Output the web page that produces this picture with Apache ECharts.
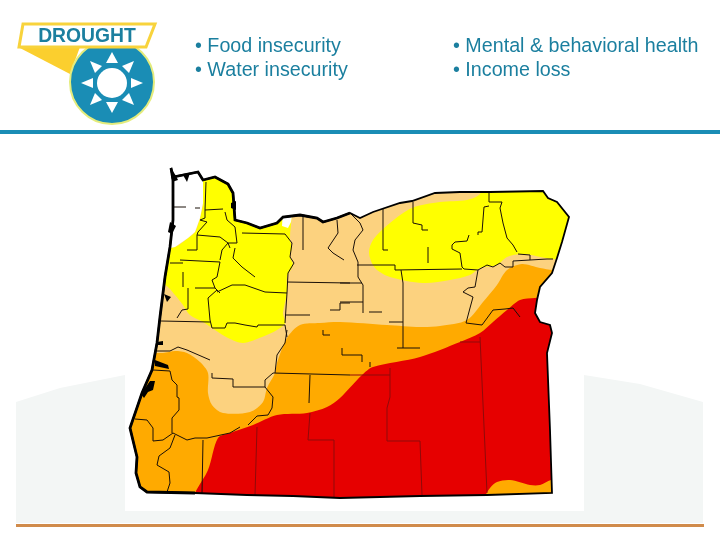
<!DOCTYPE html>
<html>
<head>
<meta charset="utf-8">
<style>html,body{margin:0;padding:0;background:#fff}#chart-1{width:720px;height:540px}</style>
<script src="https://cdn.jsdelivr.net/npm/echarts@6/dist/echarts.min.js"></script>
</head>
<body>
<div id="chart-1"></div>
<script>
/************************        Drought monitor map        ************************************************/
var stateOutline = [[171,168],[173,177],[183,175],[198,172],[203,180],[215,177],[228,184],[233,193],[235,220],[247,223],[260,228],[277,223],[283,217],[300,215],[317,218],[323,222],[337,218],[350,213],[360,218],[373,212],[400,203],[412,201],[435,193],[460,192],[490,192],[543,191],[548,198],[557,202],[569,217],[562,242],[557,258],[552,273],[540,287],[537,300],[535,313],[540,322],[550,325],[552,333],[547,353],[550,430],[552,493],[487,495],[420,496],[340,498],[293,496],[247,495],[195,493],[147,492],[140,487],[136,473],[137,457],[130,428],[142,393],[152,370],[157,343],[160,317],[165,277],[170,247],[173,220],[173,180]];
var coastLine = [[195,493],[147,492],[140,487],[136,473],[137,457],[130,428],[142,393],[152,370],[157,343],[160,317],[165,277],[170,247],[173,220],[173,180],[171,168],[173,177],[183,175],[198,172],[203,180],[215,177],[228,184],[233,193],[235,220],[247,223],[260,228],[277,223],[283,217],[300,215],[317,218],[323,222],[337,218],[350,213]];

var tanZone = stateOutline;
var yellowWest = [[203,170],[290,170],[290,240],[292,247],[290,257],[293,265],[287,277],[287,293],[283,313],[285,323],[277,330],[262,337],[243,343],[228,338],[215,330],[203,322],[190,315],[183,305],[175,295],[165,285],[150,285],[150,250],[175,247],[188,238],[195,232],[200,218],[203,203]];
var yellowEast = [[480,185],[480,194],[467,200],[440,202],[412,208],[390,223],[373,240],[369,253],[375,268],[390,277],[423,283],[450,280],[470,275],[480,268],[497,265],[507,257],[523,254],[553,259],[600,259],[600,180],[480,180]];
var orangeZone = [[600,270],[553,270],[540,268],[522,264],[507,270],[497,285],[483,302],[467,320],[440,326],[420,327],[387,325],[340,322],[320,323],[300,325],[287,338],[277,363],[275,373],[267,388],[263,402],[250,412],[223,413],[212,405],[208,393],[208,373],[200,362],[187,353],[175,351],[163,353],[120,356],[120,510],[600,510]];
var redZone = [[600,290],[535,298],[520,300],[507,310],[493,322],[480,333],[460,342],[420,357],[373,367],[362,375],[340,398],[327,407],[307,413],[277,415],[253,425],[230,433],[218,438],[208,470],[195,493],[190,510],[600,510]];
var orangeCorner = [[485,510],[485,497],[490,488],[497,482],[510,480],[530,485],[540,485],[551,480],[560,480],[560,510]];
var whiteNorth = [[203,170],[203,203],[200,218],[195,232],[188,238],[175,247],[160,250],[160,170]];
var whiteRiver = [[283,210],[293,210],[291,222],[288,228],[282,226]];

var zones = [
    {points: tanZone, color: '#fcd27f', smooth: 0},
    {points: yellowWest, color: '#ffff00', smooth: 0.3},
    {points: yellowEast, color: '#ffff00', smooth: 0.3},
    {points: orangeZone, color: '#ffaa00', smooth: 0.3},
    {points: redZone, color: '#e60000', smooth: 0.3},
    {points: orangeCorner, color: '#ffaa00', smooth: 0.3},
    {points: whiteNorth, color: '#ffffff', smooth: 0},
    {points: whiteRiver, color: '#ffffff', smooth: 0}
];

var countyLines = [
    [[173,207],[186,207]], [[195,208],[200,208]],
    [[206,182],[205,210],[223,209]],
    [[205,210],[205,218],[200,220],[207,222],[198,232],[197,235],[220,237],[228,243],[230,248]],
    [[197,235],[197,250],[187,250]],
    [[225,212],[227,220],[235,227],[237,243],[228,243],[222,250],[220,260]],
    [[235,248],[233,258],[242,267],[255,277]],
    [[180,260],[220,262],[217,277],[212,280],[215,288],[220,293]],
    [[170,263],[183,263]], [[183,272],[183,287]], [[195,288],[215,288]],
    [[188,288],[188,309],[182,310],[177,318]],
    [[217,290],[208,298],[210,320],[212,328],[225,328],[227,323],[235,323],[245,325],[257,327],[258,325],[285,325],[287,337]],
    [[217,292],[232,285],[245,285],[265,292],[287,293]],
    [[161,321],[210,322]],
    [[242,233],[285,234],[292,243],[290,257],[294,263],[288,273],[287,293],[285,323]],
    [[287,282],[350,283]], [[285,315],[310,315]],
    [[330,310],[340,310],[340,303],[350,303]],
    [[323,330],[323,335],[330,335]],
    [[303,217],[303,250]],
    [[337,220],[338,233],[328,248],[333,253],[344,260]],
    [[350,213],[360,223],[363,230],[355,240],[353,250],[358,262],[358,277],[363,285],[363,313]],
    [[357,265],[395,265],[395,270],[462,269]],
    [[340,283],[362,283]], [[340,302],[363,302]],
    [[369,312],[382,312]], [[389,322],[403,322]],
    [[401,270],[403,283],[403,348]], [[397,348],[420,348]],
    [[383,208],[383,250],[388,250]],
    [[413,202],[413,223],[422,225],[422,230],[428,230]],
    [[428,247],[428,263]],
    [[489,192],[489,202],[502,202],[500,208],[503,223],[507,238],[513,245],[517,252]],
    [[489,206],[484,207],[482,232],[478,232],[478,235]],
    [[469,235],[467,241],[455,242],[452,245],[452,249],[460,253],[462,267],[464,269]],
    [[464,269],[478,270],[475,287],[468,288],[463,292],[473,297],[470,308],[466,323],[482,325]],
    [[482,325],[493,310],[505,309],[513,308],[520,317]],
    [[478,270],[487,265],[493,267],[500,263],[505,267],[513,267],[513,261],[530,260],[530,255],[518,254]],
    [[530,260],[547,259],[553,259]],
    [[342,348],[342,355],[362,355],[362,362]], [[370,362],[370,367]],
    [[157,351],[170,351],[178,347],[187,350],[210,360]],
    [[212,373],[212,378],[233,379],[233,387],[265,387],[265,380],[273,373],[350,375]],
    [[287,330],[285,343],[277,355],[275,373]],
    [[265,387],[273,397],[272,408],[268,415],[257,416],[248,425]],
    [[240,427],[230,433],[207,438],[202,438],[195,438],[187,440],[177,435],[173,433]],
    [[173,433],[163,440],[153,441],[153,428],[147,420],[135,419]],
    [[172,433],[172,418],[179,410],[179,398],[177,397],[177,385],[172,380],[170,371],[153,370]],
    [[175,435],[170,448],[159,456],[157,465],[169,472],[170,483],[167,492]],
    [[203,440],[202,493]],
    [[310,375],[309,403]]
];
var redCountyLines = [
    [[257,427],[255,495]],
    [[310,413],[308,440],[334,440],[334,497]],
    [[350,375],[390,375]],
    [[390,368],[390,397],[387,408],[387,441],[420,441],[422,495]],
    [[460,342],[480,342]],
    [[480,337],[487,493]]
];
var waterBlobs = [
    [[171,168],[176,176],[178,180],[172,182]],
    [[183,175],[190,173],[187,182]],
    [[231,203],[236,201],[236,210],[231,208]],
    [[170,222],[176,226],[172,234],[168,232]],
    [[164,294],[171,297],[167,302]],
    [[157,342],[163,341],[163,345],[157,345]],
    [[155,360],[168,365],[169,369],[155,366]],
    [[150,381],[155,381],[153,390],[148,392],[144,398],[141,394]]
];

var outlines = [
    {points: stateOutline.concat([stateOutline[0]]), width: 1.8},
    {points: coastLine, width: 2.8}
];

function polyPixels(api, pts) {
    return pts.map(function (p) { return api.coord(p); });
}

var dom = document.getElementById("chart-1");
var myChart = echarts.init(dom);
var tealText = '#1b7f9f';
var teal = '#1a8db5';
var bulletFont = '19.7px "Liberation Sans"';
var option = {
    animation: false,
    backgroundColor: '#ffffff',
    grid: {left: 0, right: 0, top: 0, bottom: 0},
    xAxis: {type: 'value', min: 0, max: 720, show: false},
    yAxis: {type: 'value', min: 0, max: 540, inverse: true, show: false},
    graphic: [
        // page furniture behind the map
        {type: 'polygon', z: -10, shape: {points: [[16,402],[60,388],[125,375],[125,523],[16,523]]}, style: {fill: '#f3f6f5'}},
        {type: 'polygon', z: -10, shape: {points: [[584,375],[640,384],[703,402],[703,523],[584,523]]}, style: {fill: '#f3f6f5'}},
        {type: 'rect', z: -10, shape: {x: 125, y: 511, width: 459, height: 12}, style: {fill: '#f3f6f5'}},
        {type: 'rect', z: -9, shape: {x: 16, y: 524, width: 688, height: 3}, style: {fill: '#d08b4b'}},
        {type: 'rect', z: -9, shape: {x: 0, y: 130, width: 720, height: 4}, style: {fill: teal}},
        // logo
        {type: 'polygon', z: -8, shape: {points: [[18,47],[80,47],[70,74]]}, style: {fill: '#fbcf2e'}},
        {type: 'circle', z: -7, shape: {cx: 112, cy: 82, r: 42}, style: {fill: teal, stroke: '#e4ec7c', lineWidth: 2}},
        {type: 'polygon', z: -6, shape: {points: [[23,24],[155,24],[146,47],[19,47]]}, style: {fill: '#ffffff', stroke: '#f8d33c', lineWidth: 3}},
        {type: 'circle', z: -5, shape: {cx: 112, cy: 83, r: 15}, style: {fill: '#ffffff'}},
        {type: 'polygon', z: -5, shape: {points: [[112,52],[106,63],[118,63]]}, style: {fill: '#ffffff'}},
        {type: 'polygon', z: -5, shape: {points: [[112,113],[106,102],[118,102]]}, style: {fill: '#ffffff'}},
        {type: 'polygon', z: -5, shape: {points: [[81,83],[93,78],[93,88]]}, style: {fill: '#ffffff'}},
        {type: 'polygon', z: -5, shape: {points: [[143,83],[131,78],[131,88]]}, style: {fill: '#ffffff'}},
        {type: 'polygon', z: -5, shape: {points: [[90,61],[95,73],[102,66]]}, style: {fill: '#ffffff'}},
        {type: 'polygon', z: -5, shape: {points: [[134,61],[129,73],[122,66]]}, style: {fill: '#ffffff'}},
        {type: 'polygon', z: -5, shape: {points: [[90,105],[95,93],[102,100]]}, style: {fill: '#ffffff'}},
        {type: 'polygon', z: -5, shape: {points: [[134,105],[129,93],[122,100]]}, style: {fill: '#ffffff'}},
        {type: 'text', z: -4, x: 87, y: 36, scaleX: 0.92, style: {x: 0, y: 0, text: 'DROUGHT', fill: tealText, align: 'center', verticalAlign: 'middle', font: 'bold 21px "Liberation Sans"'}},
        // bullets
        {type: 'text', style: {x: 195, y: 47, text: '\u2022 Food insecurity', fill: tealText, verticalAlign: 'middle', font: bulletFont}},
        {type: 'text', style: {x: 195, y: 71, text: '\u2022 Water insecurity', fill: tealText, verticalAlign: 'middle', font: bulletFont}},
        {type: 'text', style: {x: 453, y: 47, text: '\u2022 Mental & behavioral health', fill: tealText, verticalAlign: 'middle', font: bulletFont}},
        {type: 'text', style: {x: 453, y: 71, text: '\u2022 Income loss', fill: tealText, verticalAlign: 'middle', font: bulletFont}}
    ],
    series: [
        {
            // drought categories, clipped to the state
            type: 'custom',
            coordinateSystem: 'cartesian2d',
            clip: false,
            z: 2,
            data: zones.map(function (d, i) { return [i]; }),
            renderItem: function (params, api) {
                var zone = zones[api.value(0)];
                return {
                    type: 'polygon',
                    shape: {points: polyPixels(api, zone.points), smooth: zone.smooth},
                    clipPath: {type: 'polygon', shape: {points: polyPixels(api, stateOutline)}},
                    style: {fill: zone.color}
                };
            }
        },
        {
            type: 'custom',
            coordinateSystem: 'cartesian2d',
            z: 3,
            data: countyLines.map(function (d, i) { return [i]; }),
            renderItem: function (params, api) {
                return {
                    type: 'polyline',
                    shape: {points: polyPixels(api, countyLines[api.value(0)])},
                    style: {fill: null, stroke: '#1a1008', lineWidth: 1}
                };
            }
        },
        {
            type: 'custom',
            coordinateSystem: 'cartesian2d',
            z: 3,
            data: redCountyLines.map(function (d, i) { return [i]; }),
            renderItem: function (params, api) {
                return {
                    type: 'polyline',
                    shape: {points: polyPixels(api, redCountyLines[api.value(0)])},
                    style: {fill: null, stroke: '#8f0a0a', lineWidth: 1}
                };
            }
        },
        {
            type: 'custom',
            coordinateSystem: 'cartesian2d',
            z: 4,
            data: outlines.map(function (d, i) { return [i]; }),
            renderItem: function (params, api) {
                var line = outlines[api.value(0)];
                return {
                    type: 'polyline',
                    shape: {points: polyPixels(api, line.points)},
                    style: {fill: null, stroke: '#000000', lineWidth: line.width}
                };
            }
        },
        {
            type: 'custom',
            coordinateSystem: 'cartesian2d',
            z: 4,
            data: waterBlobs.map(function (d, i) { return [i]; }),
            renderItem: function (params, api) {
                return {
                    type: 'polygon',
                    shape: {points: polyPixels(api, waterBlobs[api.value(0)])},
                    style: {fill: '#000000'}
                };
            }
        }
    ]
};

myChart.setOption(option);
</script>
</body>
</html>
